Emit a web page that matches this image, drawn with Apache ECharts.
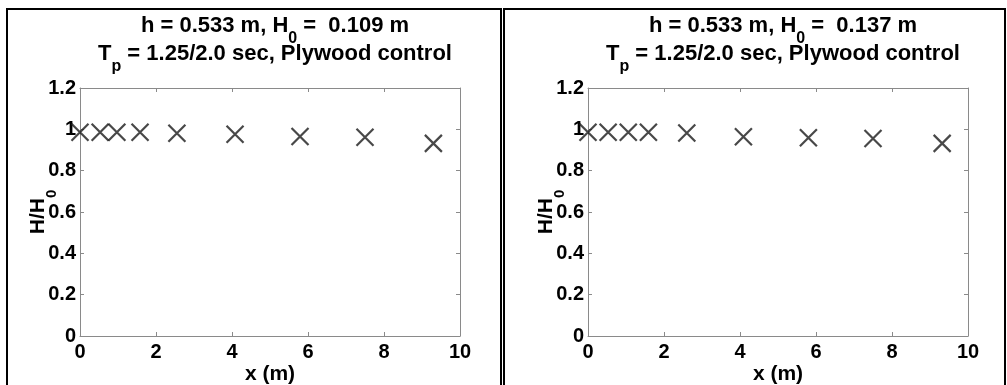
<!DOCTYPE html>
<html>
<head>
<meta charset="utf-8">
<script src="https://cdn.jsdelivr.net/npm/echarts@6/dist/echarts.min.js"></script>
<style>
  html, body { margin: 0; padding: 0; background: #fff; }
  #chart { width: 1007px; height: 385px; }
</style>
</head>
<body>
<div id="chart"></div>
<script>
// Wave height ratio H/H0 along the flume, two incident wave heights
const xLeft = [0, 0.53, 0.97, 1.58, 2.55, 4.08, 5.79, 7.5, 9.3];
const ratioLeft = [0.986, 0.986, 0.986, 0.986, 0.981, 0.976, 0.965, 0.962, 0.932];
const xRight = [0, 0.53, 1.06, 1.59, 2.6, 4.09, 5.8, 7.5, 9.32];
const ratioRight = [0.986, 0.986, 0.986, 0.986, 0.982, 0.964, 0.959, 0.956, 0.932];

const panelTitles = [
  ['h = 0.533 m, H', '0', ' =  0.109 m'],
  ['h = 0.533 m, H', '0', ' =  0.137 m']
];
const subtitleParts = ['T', 'p', ' = 1.25/2.0 sec, Plywood control'];
const xName = 'x (m)';
const yNameParts = ['H/H', '0'];

const FONT = '"Liberation Sans", Arial, Helvetica, sans-serif';
const AXIS_GRAY = '#8a8a8a';
const INK = '#000';
const MARK = '#1a1a1a';

// main text and a dropped subscript sharing a 28px line box
function richSet(main, sub) {
  return {
    m: { fontFamily: FONT, fontWeight: 'bold', fontSize: main, color: INK, lineHeight: 28, verticalAlign: 'top' },
    s: { fontFamily: FONT, fontWeight: 'bold', fontSize: sub, color: INK, lineHeight: 12, padding: [16, 0, 0, 0], verticalAlign: 'top' }
  };
}
const titleRich = richSet(22, 16);
const nameRich = richSet(21, 15);

function titleText(parts) {
  return '{m|' + parts[0] + '}{s|' + parts[1] + '}{m|' + parts[2] + '}\n' +
         '{m|' + subtitleParts[0] + '}{s|' + subtitleParts[1] + '}{m|' + subtitleParts[2] + '}';
}

const grids = [
  { left: 80, top: 88, width: 380, height: 248, outerBoundsMode: 'none', containLabel: false },
  { left: 588, top: 88, width: 380, height: 248, outerBoundsMode: 'none', containLabel: false }
];

const xSymbol = 'path://M0,0L10,10M10,0L0,10';
const tickFont = { fontFamily: FONT, fontWeight: 'bold', fontSize: 20, color: INK };

function xAxes(gi) {
  const common = {
    type: 'value', min: 0, max: 10, interval: 2, gridIndex: gi,
    axisLine: { show: true, onZero: false, lineStyle: { color: AXIS_GRAY, width: 1 } },
    axisTick: { show: true, inside: true, length: 4, lineStyle: { color: AXIS_GRAY } },
    splitLine: { show: false }
  };
  return [
    Object.assign({}, common, {
      position: 'bottom',
      name: xName, nameLocation: 'middle', nameGap: 28, nameMoveOverlap: false,
      nameTextStyle: { fontFamily: FONT, fontWeight: 'bold', fontSize: 21, color: INK },
      axisLabel: Object.assign({ margin: 6 }, tickFont)
    }),
    Object.assign({}, common, { position: 'top', axisLabel: { show: false } })
  ];
}

function yAxes(gi) {
  const common = {
    type: 'value', min: 0, max: 1.2, interval: 0.2, gridIndex: gi,
    axisLine: { show: true, onZero: false, lineStyle: { color: AXIS_GRAY, width: 1 } },
    axisTick: { show: true, inside: true, length: 4, lineStyle: { color: AXIS_GRAY } },
    splitLine: { show: false }
  };
  return [
    Object.assign({}, common, {
      position: 'left',
      name: '{m|' + yNameParts[0] + '}{s|' + yNameParts[1] + '}',
      nameLocation: 'middle', nameGap: 24, nameRotate: 90, nameMoveOverlap: false,
      nameTextStyle: { rich: nameRich, padding: [0, 0, 0, 0] },
      axisLabel: Object.assign({ margin: 4 }, tickFont)
    }),
    Object.assign({}, common, { position: 'right', axisLabel: { show: false } })
  ];
}

function scatter(xs, ys, axisIdx) {
  return {
    type: 'scatter',
    xAxisIndex: axisIdx, yAxisIndex: axisIdx,
    data: xs.map((x, i) => [x, ys[i]]),
    symbol: xSymbol, symbolSize: 17,
    clip: false,
    itemStyle: { color: 'transparent', borderColor: MARK, borderWidth: 2.2 },
    emphasis: { disabled: true },
    z: 5
  };
}

const chart = echarts.init(document.getElementById('chart'), null, { renderer: 'canvas' });
chart.setOption({
  animation: false,
  backgroundColor: '#fff',
  title: [
    { text: titleText(panelTitles[0]), left: 270, top: 10, textAlign: 'center', textStyle: { rich: titleRich } },
    { text: titleText(panelTitles[1]), left: 778, top: 10, textAlign: 'center', textStyle: { rich: titleRich } }
  ],
  grid: grids,
  xAxis: xAxes(0).concat(xAxes(1)),
  yAxis: yAxes(0).concat(yAxes(1)),
  series: [
    scatter(xLeft, ratioLeft, 0),
    scatter(xRight, ratioRight, 2)
  ],
  graphic: [
    { type: 'rect', shape: { x: 7, y: 9, width: 494, height: 390 }, style: { fill: 'none', stroke: INK, lineWidth: 2 }, silent: true },
    { type: 'rect', shape: { x: 504, y: 9, width: 501, height: 390 }, style: { fill: 'none', stroke: INK, lineWidth: 2 }, silent: true }
  ]
});
</script>
</body>
</html>
